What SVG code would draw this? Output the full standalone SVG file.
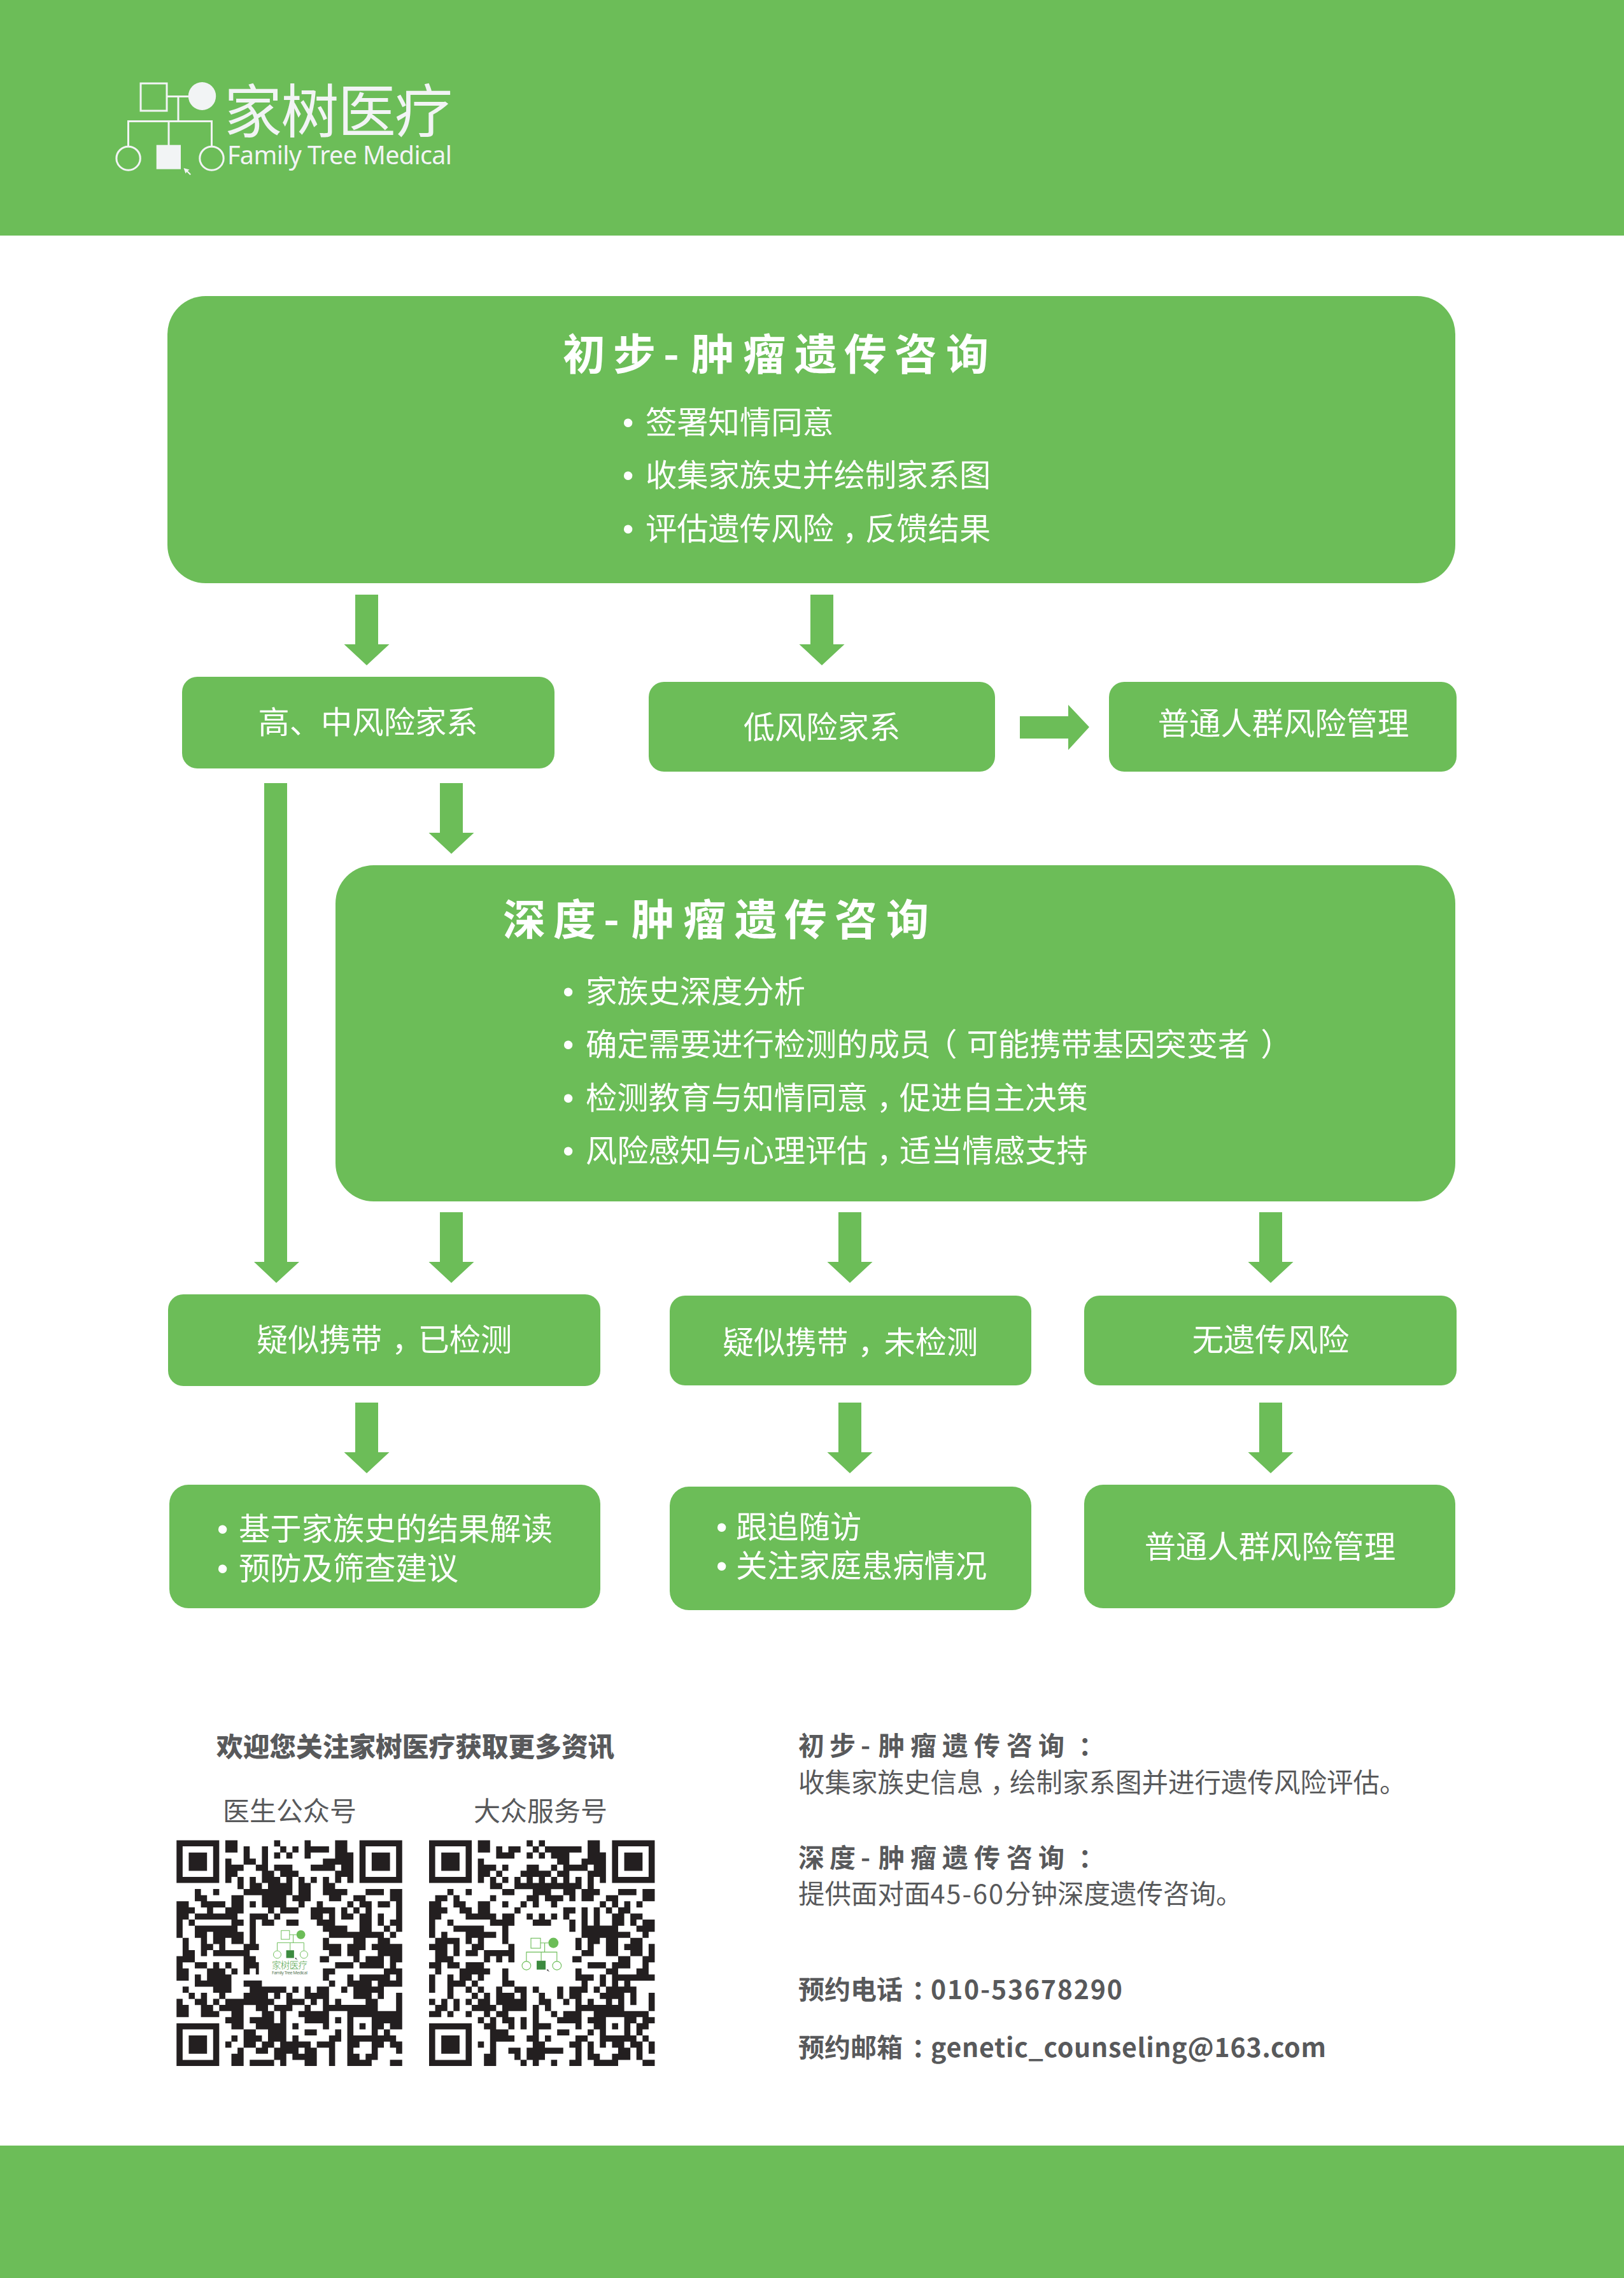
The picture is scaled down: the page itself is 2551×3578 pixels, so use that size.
<svg xmlns="http://www.w3.org/2000/svg" width="2551" height="3578" viewBox="0 0 2551 3578">
<defs>
<style>
text{font-family:"Noto Sans CJK SC","Noto Sans",sans-serif}
.box{fill:#6cbd58}
.conn{fill:#6cbd58}
.t{font-size:49.300px;font-weight:400;fill:#fff}
.b{font-family:"Liberation Sans",sans-serif;font-weight:400}
.c{text-anchor:middle}
.h{font-size:67px;font-weight:700;fill:#fff}
.g{fill:#58595b;font-size:41.500px;font-weight:400}
.gb{fill:#58595b;font-size:41px;font-weight:700}
.qr{fill:none;stroke:#231f20;stroke-width:1.01}
.fd{fill:#231f20;fill-rule:evenodd}
</style>
<path id="ad" d="M-18 0H18V78H35.500L0 111L-35.500 78H-18Z"/>
<path id="fnd" class="fd" d="M0 0h7v7h-7zM1 1v5h5v-5zM2 2h3v3h-3z"/>
<g id="ped">
<rect x="221" y="131" width="41" height="43" fill="none" stroke-width="3"/>
<ellipse cx="317.500" cy="151" rx="21.700" ry="22" stroke="none"/>
<path fill="none" stroke-width="3" d="M262 151.500H296M280 151.500V190.500M201.500 229V190.500H332.500V229M265 190.500V228"/>
<ellipse cx="201.600" cy="248.700" rx="18.700" ry="18.500" fill="none" stroke-width="3"/>
<ellipse cx="332.500" cy="248.700" rx="18.700" ry="18.500" fill="none" stroke-width="3"/>
</g>
<path id="ptr" d="M288.500 264l9 2.500-2.500 2 5 5-1.500 1.500-5-5-2 2.500z"/>
</defs>
<rect width="2551" height="3578" fill="#fff"/>
<g id="header">
<rect class="box" x="0" y="0" width="2551" height="370"/>
<use href="#ped" stroke="#f2f4f5" fill="#f2f4f5"/>
<rect x="245.700" y="227.700" width="38.300" height="38" fill="#f2f4f5"/>
<use href="#ptr" fill="#f2f4f5"/>
<text x="352" y="208" font-size="91" font-weight="400" fill="#f2f4f5" textLength="359">家树医疗</text>
<text x="357" y="258" font-size="39.500" font-weight="400" fill="#f2f4f5" style="font-family:'Noto Sans',sans-serif" textLength="353">Family Tree Medical</text>
</g>
<rect id="footer" class="box" x="0" y="3370" width="2551" height="208"/>

<g id="connectors">
<use href="#ad" class="conn" x="576" y="934"/>
<use href="#ad" class="conn" x="1291" y="934"/>
<use href="#ad" class="conn" x="709" y="1230"/>
<path class="conn" d="M415 1230H451V1982H470L434 2015L399 1982H415Z"/>
<path class="conn" d="M1602 1125H1678V1107L1711 1142L1678 1178V1160H1602Z"/>
<use href="#ad" class="conn" x="709" y="1904"/>
<use href="#ad" class="conn" x="1335" y="1904"/>
<use href="#ad" class="conn" x="1996" y="1904"/>
<use href="#ad" class="conn" x="576" y="2203"/>
<use href="#ad" class="conn" x="1335" y="2203"/>
<use href="#ad" class="conn" x="1996" y="2203"/>
</g>

<g id="n-initial">
<rect class="box" x="263" y="465" width="2023" height="451" rx="60"/>
<text class="h" x="884 963 1042 1086 1167 1248 1326 1405 1486" y="581">初步-肿瘤遗传咨询</text>
<text class="t" x="978" y="681"><tspan class="b">•</tspan><tspan x="1014">签署知情同意</tspan></text>
<text class="t" x="978" y="764"><tspan class="b">•</tspan><tspan x="1014">收集家族史并绘制家系图</tspan></text>
<text class="t" x="978" y="848"><tspan class="b">•</tspan><tspan x="1014">评估遗传风险<tspan dx="13">，</tspan><tspan dx="-13">反馈结果</tspan></tspan></text>
</g>
<g id="n-high">
<rect class="box" x="286" y="1063" width="585" height="144" rx="24"/>
<text class="t c" x="578" y="1152">高、中风险家系</text>
</g>
<g id="n-low">
<rect class="box" x="1019" y="1071" width="544" height="141" rx="24"/>
<text class="t c" x="1291" y="1160">低风险家系</text>
</g>
<g id="n-general1">
<rect class="box" x="1742" y="1071" width="546" height="141" rx="24"/>
<text class="t c" x="2016" y="1154">普通人群风险管理</text>
</g>
<g id="n-deep">
<rect class="box" x="527" y="1359" width="1759" height="528" rx="60"/>
<text class="h" x="790 869 948 992 1073 1154 1232 1311 1392" y="1469">深度-肿瘤遗传咨询</text>
<text class="t" x="884" y="1575"><tspan class="b">•</tspan><tspan x="920">家族史深度分析</tspan></text>
<text class="t" x="884" y="1658"><tspan class="b">•</tspan><tspan x="920">确定需要进行检测的成员<tspan dx="-8">（</tspan><tspan dx="15">可能携带基因突变者</tspan><tspan dx="18">）</tspan></tspan></text>
<text class="t" x="884" y="1742"><tspan class="b">•</tspan><tspan x="920">检测教育与知情同意<tspan dx="13">，</tspan><tspan dx="-13">促进自主决策</tspan></tspan></text>
<text class="t" x="884" y="1825"><tspan class="b">•</tspan><tspan x="920">风险感知与心理评估<tspan dx="13">，</tspan><tspan dx="-13">适当情感支持</tspan></tspan></text>
</g>
<g id="n-tested">
<rect class="box" x="264" y="2033" width="679" height="144" rx="24"/>
<text class="t" x="403" y="2122">疑似携带<tspan dx="15">，</tspan><tspan dx="-8">已检测</tspan></text>
</g>
<g id="n-untested">
<rect class="box" x="1052" y="2035" width="568" height="141" rx="24"/>
<text class="t" x="1135" y="2126">疑似携带<tspan dx="15">，</tspan><tspan dx="-8">未检测</tspan></text>
</g>
<g id="n-norisk">
<rect class="box" x="1703" y="2035" width="585" height="141" rx="24"/>
<text class="t c" x="1996" y="2122">无遗传风险</text>
</g>
<g id="n-tested-detail">
<rect class="box" x="266" y="2332" width="677" height="194" rx="30"/>
<text class="t" x="341" y="2419"><tspan class="b">•</tspan><tspan x="375">基于家族史的结果解读</tspan></text>
<text class="t" x="341" y="2481"><tspan class="b">•</tspan><tspan x="375">预防及筛查建议</tspan></text>
</g>
<g id="n-untested-detail">
<rect class="box" x="1052" y="2335" width="568" height="194" rx="30"/>
<text class="t" x="1125" y="2416"><tspan class="b">•</tspan><tspan x="1156">跟追随访</tspan></text>
<text class="t" x="1125" y="2477"><tspan class="b">•</tspan><tspan x="1156">关注家庭患病情况</tspan></text>
</g>
<g id="n-general2">
<rect class="box" x="1703" y="2332" width="583" height="194" rx="30"/>
<text class="t c" x="1995" y="2447">普通人群风险管理</text>
</g>

<g id="follow">
<text x="340" y="2759" font-size="41.700" font-weight="900" fill="#58595b">欢迎您关注家树医疗获取更多资讯</text>
<text class="g" x="350" y="2860" style="font-size:42px">医生公众号</text>
<text class="g" x="744" y="2860" style="font-size:42px">大众服务号</text>
</g>

<g id="qr1" transform="translate(277.300 2890.500) scale(9.580)">
<use href="#fnd"/><use href="#fnd" x="30"/><use href="#fnd" y="30"/>
<path class="qr" d="M8 .5h2M16 .5h1M21 .5h1M26 .5h2
M8 1.500h2M11 1.500h1M14 1.500h1M17 1.500h1M19 1.500h1M21 1.500h4M26 1.500h2
M11 2.500h1M14 2.500h1M16 2.500h1M18 2.500h1M21 2.500h1M26 2.500h3
M8 3.500h1M11 3.500h2M14 3.500h1M24 3.500h5
M8 4.500h3M13 4.500h2M16 4.500h3M22 4.500h4M27 4.500h2
M8 5.500h2M14 5.500h2M17 5.500h3M26 5.500h3
M8 6.500h1M10 6.500h1M12 6.500h1M14 6.500h3M18 6.500h1M20 6.500h1M22 6.500h1M24 6.500h1M26 6.500h1M28 6.500h1
M10 7.500h1M12 7.500h2M15 7.500h4M20 7.500h2M24 7.500h2
M3 8.500h1M6 8.500h1M11 8.500h8M20 8.500h2M24 8.500h4M31 8.500h3M35 8.500h2
M3 9.500h2M9 9.500h2M14 9.500h4M19 9.500h3M25 9.500h2M29 9.500h2M35 9.500h2
M0 10.500h2M4 10.500h4M9 10.500h2M12 10.500h1M14 10.500h4M20 10.500h1M23 10.500h1M28 10.500h1M30 10.500h2M33 10.500h2M36 10.500h1
M0 11.500h3M5 11.500h1M8 11.500h3M15 11.500h1M17 11.500h3M22 11.500h4M27 11.500h1M29 11.500h1M31 11.500h1M36 11.500h1
M0 12.500h2M3 12.500h7M12 12.500h3M16 12.500h1M22 12.500h2M25 12.500h1M27 12.500h2M30 12.500h2M33 12.500h1M36 12.500h1
M0 13.500h1M2 13.500h1M9 13.500h2M12 13.500h1M14 13.500h2M18 13.500h2M23 13.500h3M30 13.500h2M33 13.500h1M35 13.500h2
M0 14.500h1M3 14.500h7M12 14.500h1M24 14.500h4M30 14.500h2M34 14.500h1M36 14.500h1
M0 15.500h1M3 15.500h2M6 15.500h5M12 15.500h1M25 15.500h7M32 15.500h2M35 15.500h1
M1 16.500h1M4 16.500h1M6 16.500h2M9 16.500h2M12 16.500h1M24 16.500h1M29 16.500h2M33 16.500h2
M1 17.500h1M4 17.500h2M7 17.500h1M11 17.500h2.500M24 17.500h3M28 17.500h3M32 17.500h5
M1 18.500h2M4 18.500h1M6 18.500h6M25 18.500h2M28 18.500h2M33 18.500h4
M0 19.500h3M11 19.500h2M23.500 19.500h1.500M29 19.500h1M31 19.500h3M35 19.500h2
M0 20.500h1M3 20.500h2M6 20.500h1M8 20.500h1M11 20.500h2.500M26 20.500h3M30 20.500h4M35 20.500h1
M0 21.500h2M5 21.500h2M7 21.500h1M9 21.500h1M11 21.500h1M13 21.500h.500M24 21.500h2M34 21.500h3
M0 22.500h2M3 22.500h1M5 22.500h3M8 22.500h1M24 22.500h1M28 22.500h1M30 22.500h5M36 22.500h1
M3 23.500h5M7 23.500h2M11 23.500h3M25 23.500h1M28 23.500h3M31 23.500h1M33 23.500h4
M1 24.500h1M6 24.500h3M12 24.500h6M19 24.500h1M21 24.500h1M23 24.500h2M27 24.500h1M29 24.500h5
M2 25.500h1M4 25.500h1M7 25.500h1M11 25.500h4M16 25.500h1M18 25.500h1M21 25.500h4M29 25.500h3M33 25.500h1M36 25.500h1
M0 26.500h1M3 26.500h2M6 26.500h1M8 26.500h7M15 26.500h1M18 26.500h3M22 26.500h1M24 26.500h1M26 26.500h1M31 26.500h2M36 26.500h1
M0 27.500h2M4 27.500h2M7 27.500h4M13 27.500h2M16 27.500h3M21 27.500h1M24 27.500h9M36 27.500h1
M0 28.500h2M4 28.500h3M9 28.500h2M14 28.500h2M17 28.500h1M20 28.500h5M28 28.500h9
M8 29.500h3M12 29.500h3M15 29.500h1M17 29.500h1M21 29.500h4M26 29.500h1M28 29.500h1M32 29.500h5
M9 30.500h2M13 30.500h2M15 30.500h3M19 30.500h1M24 30.500h1M28 30.500h1M30 30.500h1M32 30.500h2M35 30.500h2
M11 31.500h2M15 31.500h3M21 31.500h2M26 31.500h1M28 31.500h1M32 31.500h1M34 31.500h1
M9 32.500h1M11 32.500h3M15 32.500h3M19 32.500h1M25 32.500h2M28 32.500h7M35 32.500h1
M8 33.500h1M11 33.500h2M14 33.500h2M17 33.500h5M23 33.500h3M28 33.500h2M32 33.500h2M35 33.500h2
M10 34.500h1M13 34.500h2M16 34.500h4M21 34.500h2M25 34.500h1M28 34.500h1M32 34.500h1M36 34.500h1
M9 35.500h2M16 35.500h2M19 35.500h4M25 35.500h1M28 35.500h2M31 35.500h2
M9 36.500h2M12 36.500h4M17 36.500h1M21 36.500h2M25 36.500h1M28 36.500h4M35 36.500h2"/>
</g>
<g id="qr1-logo">
<g transform="translate(441.700 3032.300) scale(.32) translate(-221 -131)" stroke="#6cbd58" fill="#6cbd58">
<use href="#ped"/>
<rect x="245.700" y="227.700" width="38.300" height="38" fill="#3c8a3f" stroke="none"/>
<use href="#ptr" fill="#414042" stroke="none"/>
</g>
<text x="427" y="3092" font-size="14.500" font-weight="300" fill="#5aa854" textLength="56">家树医疗</text>
<text x="427" y="3100.500" font-size="7" font-weight="400" fill="#5c7a5a" style="font-family:'Noto Sans',sans-serif" textLength="56">Family Tree Medical</text>
</g>

<g id="qr2" transform="translate(674 2890.500) scale(9.580)">
<use href="#fnd"/><use href="#fnd" x="30"/><use href="#fnd" y="30"/>
<path class="qr" d="M8 .5h2M16 .5h1M18 .5h1M26 .5h2
M8 1.500h2M11 1.500h1M13 1.500h2M17 1.500h1M19 1.500h6M26 1.500h2
M11 2.500h3M16 2.500h1M18 2.500h1M20 2.500h3M26 2.500h3
M8 3.500h1M21 3.500h2M25 3.500h4
M8 4.500h3M12 4.500h1M16 4.500h2M20 4.500h1M22 4.500h4M27 4.500h2
M8 5.500h2M11 5.500h1M15 5.500h5M21 5.500h2M26 5.500h3
M8 6.500h1M10 6.500h1M12 6.500h1M14 6.500h1M16 6.500h1M18 6.500h1M20 6.500h1M22 6.500h1M24 6.500h1M26 6.500h1M28 6.500h1
M10 7.500h2M14 7.500h11M26 7.500h1
M3 8.500h1M6 8.500h1M12 8.500h2M17 8.500h3M22 8.500h2M25 8.500h3M31 8.500h3M35 8.500h2
M1 9.500h2M4 9.500h1M10 9.500h1M16 9.500h2M19 9.500h3M23 9.500h1M25 9.500h2M29 9.500h2M35 9.500h2
M0 10.500h2M4 10.500h2M8 10.500h2M12 10.500h1M15 10.500h1M17 10.500h1M20 10.500h1M28 10.500h1M30 10.500h1M32 10.500h1M34 10.500h1
M0 11.500h3M5 11.500h2M8 11.500h2M14 11.500h1M22 11.500h2M25 11.500h1M27 11.500h1M29 11.500h1M31 11.500h2
M0 12.500h2M6 12.500h5M12 12.500h2M16 12.500h1M18 12.500h1M20 12.500h1M22 12.500h1M25 12.500h1M27 12.500h1M30 12.500h2M33 12.500h2
M0 13.500h1M3 13.500h1M10 13.500h3M13 13.500h1M17 13.500h3M23 13.500h1M25 13.500h1M27 13.500h1M30 13.500h2M33 13.500h1M35 13.500h2
M0 14.500h1M4 14.500h5M12 14.500h1M23 14.500h1M25 14.500h2M27 14.500h4M34 14.500h2M36 14.500h1
M0 15.500h1M2 15.500h1M6 15.500h4M10 15.500h1M12 15.500h1M25 15.500h3M28 15.500h4M32 15.500h1M35 15.500h1
M1 16.500h4M6 16.500h1M8 16.500h1M12 16.500h1M24 16.500h1M26 16.500h2M29 16.500h2M33 16.500h2
M0 17.500h3M4 17.500h1M7 17.500h2M13 17.500h1M24 17.500h1M26 17.500h1M29 17.500h2M32 17.500h3M36 17.500h1
M1 18.500h2M4 18.500h1M6 18.500h2M9 18.500h3M12 18.500h2M25 18.500h2M29 18.500h2M33 18.500h2M36 18.500h1
M1 19.500h3M9 19.500h1M11 19.500h1M13 19.500h1M23.500 19.500h1.500M31 19.500h2M35 19.500h2
M0 20.500h2M3 20.500h2M6 20.500h3M26 20.500h3M30 20.500h3M35 20.500h1
M1 21.500h1M5 21.500h3M7 21.500h3M12 21.500h1M24 21.500h1M29 21.500h2M34 21.500h2
M0 22.500h1M3 22.500h1M5 22.500h2M8 22.500h1M12 22.500h1M24 22.500h3M28 22.500h1M30 22.500h7
M0 23.500h1M3 23.500h3M7 23.500h1M12 23.500h2M25 23.500h1M28 23.500h1M30 23.500h1M32 23.500h1
M0 24.500h1M3 24.500h1M6 24.500h1M8 24.500h1M11 24.500h1M14 24.500h2M17 24.500h1M21 24.500h1M23 24.500h3M27 24.500h1M29 24.500h5
M3 25.500h1M7 25.500h1M9 25.500h1M11 25.500h3M15 25.500h1M18 25.500h1M21 25.500h1M23 25.500h2M28 25.500h4M33 25.500h1M36 25.500h1
M0 26.500h1M2 26.500h1M4 26.500h1M6 26.500h1M8 26.500h2M11 26.500h5M18 26.500h2M22 26.500h1M24 26.500h1M26 26.500h1M29 26.500h1M31 26.500h1M33 26.500h1M36 26.500h1
M1 27.500h2M4 27.500h1M7 27.500h4M12 27.500h4M17 27.500h1M19 27.500h1M24 27.500h8M36 27.500h1
M0 28.500h2M3 28.500h1M6 28.500h1M9 28.500h1M11 28.500h2M17 28.500h1M20 28.500h1M22 28.500h3M27 28.500h9
M8 29.500h1M10 29.500h1M12 29.500h2M15 29.500h1M17 29.500h1M21 29.500h4M26 29.500h3M32 29.500h2M35 29.500h2
M9 30.500h2M13 30.500h1M15 30.500h1M17 30.500h3M24 30.500h1M27 30.500h2M30 30.500h1M32 30.500h1M34 30.500h2
M10 31.500h3M17 31.500h1M21 31.500h2M26 31.500h1M28 31.500h1M32 31.500h1M34 31.500h1
M10 32.500h4M16 32.500h2M19 32.500h1M24 32.500h2M28 32.500h6M35 32.500h1
M8 33.500h1M10 33.500h1M17 33.500h2M23 33.500h2M26 33.500h1M28 33.500h1M30 33.500h2M33 33.500h2M36 33.500h1
M10 34.500h1M13 34.500h2M16 34.500h6M24 34.500h1M26 34.500h1M31 34.500h2M34 34.500h1M36 34.500h1
M9 35.500h2M14 35.500h1M16 35.500h3M24 35.500h1M26 35.500h2M30 35.500h3M34 35.500h1
M9 36.500h2M15 36.500h1M17 36.500h1M20 36.500h1M23 36.500h2M27 36.500h4M35 36.500h2"/>
</g>
<g id="qr2-logo" transform="translate(834 3044.300) scale(.366) translate(-221 -131)" stroke="#6cbd58" fill="#6cbd58">
<use href="#ped"/>
<rect x="245.700" y="227.700" width="38.300" height="38" fill="#3c8a3f" stroke="none"/>
<use href="#ptr" fill="#414042" stroke="none"/>
</g>

<g id="info">
<text class="gb" x="1254 1303 1352 1380 1430 1480 1530 1581 1631 1694" y="2757">初步-肿瘤遗传咨询：</text>
<text class="g" x="1254" y="2815">收集家族史信息<tspan dx="11">，</tspan><tspan dx="-11">绘制家系图并进行遗传风险评估。</tspan></text>
<text class="gb" x="1254 1303 1352 1380 1430 1480 1530 1581 1631 1694" y="2933">深度-肿瘤遗传咨询：</text>
<text class="g" x="1254" y="2990">提供面对面<tspan letter-spacing="2">45-60</tspan>分钟深度遗传咨询。</text>
<text class="gb" x="1254" y="3140">预约电话<tspan x="1432">：</tspan><tspan x="1462" textLength="301">010-53678290</tspan></text>
<text class="gb" x="1254" y="3231">预约邮箱<tspan x="1432">：</tspan><tspan x="1462" textLength="621">genetic_counseling@163.com</tspan></text>
</g>
</svg>
